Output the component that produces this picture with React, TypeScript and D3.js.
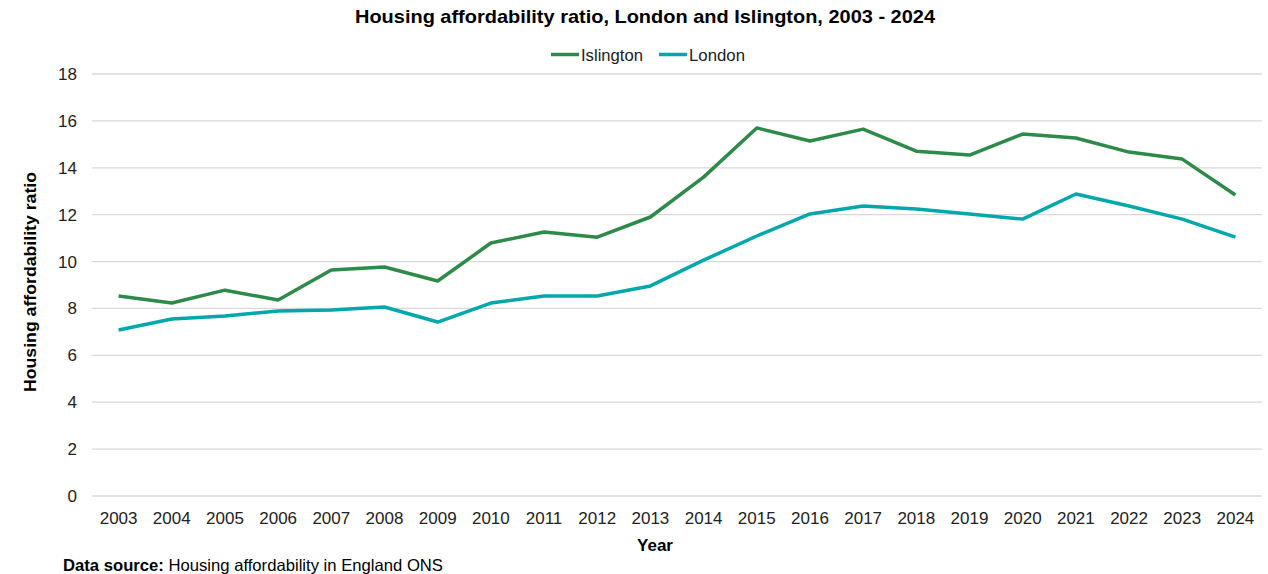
import React from "react";
import * as d3 from "d3";

const years = ["2003","2004","2005","2006","2007","2008","2009","2010","2011","2012","2013","2014","2015","2016","2017","2018","2019","2020","2021","2022","2023","2024"];
const islington = [8.53,8.23,8.78,8.36,9.64,9.77,9.17,10.79,11.26,11.04,11.9,13.6,15.7,15.14,15.65,14.71,14.54,15.44,15.27,14.67,14.37,12.84];
const london = [7.08,7.55,7.68,7.89,7.93,8.06,7.42,8.23,8.53,8.53,8.96,10.06,11.09,12.03,12.37,12.24,12.03,11.81,12.88,12.37,11.81,11.04];
const yTicks = [0,2,4,6,8,10,12,14,16,18];

const W = 1268, H = 574;
const FONT = "'Liberation Sans', Arial, sans-serif";
const seriesList = [
  { name: "Islington", values: islington, color: "#2e8a48" },
  { name: "London", values: london, color: "#00a8ab" },
];

export default function App() {
  const x = d3.scaleBand<string>().domain(years).range([92, 1262]);
  const y = d3.scaleLinear().domain([0, 18]).range([496, 74]);
  const line = d3.line<number>()
    .x((_, i) => (x(years[i]) as number) + x.bandwidth() / 2)
    .y((d) => y(d));
  return (
    <svg width={W} height={H} style={{ position: "absolute", left: 0, top: 0, background: "#fff" }} fontFamily={FONT}>
      <text x={645} y={23} textAnchor="middle" fontSize={18.5} fontWeight="bold" fill="#000" textLength={580} lengthAdjust="spacingAndGlyphs">
        Housing affordability ratio, London and Islington, 2003 - 2024
      </text>
      {/* legend */}
      <g>
        <line x1={551} x2={579} y1={54.5} y2={54.5} stroke={seriesList[0].color} strokeWidth={3.5} />
        <text x={581} y={60.5} fontSize={17} fill="#222" textLength={62} lengthAdjust="spacingAndGlyphs">Islington</text>
        <line x1={659} x2={687} y1={54.5} y2={54.5} stroke={seriesList[1].color} strokeWidth={3.5} />
        <text x={689} y={60.5} fontSize={17} fill="#222" textLength={56} lengthAdjust="spacingAndGlyphs">London</text>
      </g>
      {yTicks.map((t) => (
        <g key={t}>
          <line x1={92} x2={1262} y1={y(t)} y2={y(t)} stroke="#d9d9d9" strokeWidth={1.3} />
          <text x={77} y={y(t) + 6} textAnchor="end" fontSize={17} fill="#222">{t}</text>
        </g>
      ))}
      {years.map((yr) => (
        <text key={yr} x={(x(yr) as number) + x.bandwidth() / 2} y={523.5} textAnchor="middle" fontSize={17} fill="#222">{yr}</text>
      ))}
      {seriesList.map((s) => (
        <path key={s.name} d={line(s.values) || ""} fill="none" stroke={s.color} strokeWidth={3.5} strokeLinejoin="round" />
      ))}
      <text x={655} y={550.5} textAnchor="middle" fontSize={17} fontWeight="bold" fill="#000">Year</text>
      <text transform="translate(36,282) rotate(-90)" textAnchor="middle" fontSize={17} fontWeight="bold" fill="#000" textLength={220} lengthAdjust="spacingAndGlyphs">Housing affordability ratio</text>
      <text x={63} y={571} fontSize={16.5} fill="#000" textLength={380} lengthAdjust="spacingAndGlyphs">
        <tspan fontWeight="bold">Data source:</tspan> Housing affordability in England ONS
      </text>
    </svg>
  );
}
